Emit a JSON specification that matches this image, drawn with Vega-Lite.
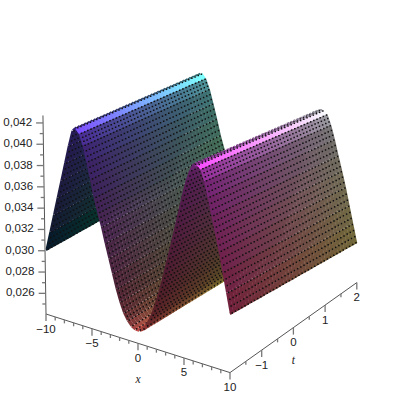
{"$schema":"https://vega.github.io/schema/vega-lite/v6.json","width":400,"height":400,"autosize":"none","padding":0,"background":"white","view":{"stroke":null},
"datasets":{
"surface":[{"x":-10,"z":0.03},{"x":-9.6,"z":0.0317},{"x":-9.2,"z":0.0334},{"x":-8.8,"z":0.0351},{"x":-8.4,"z":0.0368},{"x":-8,"z":0.0385},{"x":-7.6,"z":0.0402},{"x":-7.2,"z":0.0417},{"x":-6.8,"z":0.0421},{"x":-6.4,"z":0.0417},{"x":-6,"z":0.0407},{"x":-5.6,"z":0.0393},{"x":-5.2,"z":0.0378},{"x":-4.8,"z":0.0362},{"x":-4.4,"z":0.0349},{"x":-4,"z":0.0337},{"x":-3.6,"z":0.0323},{"x":-3.2,"z":0.031},{"x":-2.8,"z":0.0297},{"x":-2.4,"z":0.0284},{"x":-2,"z":0.0273},{"x":-1.6,"z":0.0264},{"x":-1.2,"z":0.0258},{"x":-0.8,"z":0.0254},{"x":-0.4,"z":0.0252},{"x":0,"z":0.0252},{"x":0.4,"z":0.0254},{"x":0.8,"z":0.0258},{"x":1.2,"z":0.0265},{"x":1.6,"z":0.0274},{"x":2,"z":0.0285},{"x":2.4,"z":0.0298},{"x":2.8,"z":0.0312},{"x":3.2,"z":0.0327},{"x":3.6,"z":0.0342},{"x":4,"z":0.0358},{"x":4.4,"z":0.0374},{"x":4.8,"z":0.039},{"x":5.2,"z":0.0404},{"x":5.6,"z":0.0415},{"x":6,"z":0.0422},{"x":6.4,"z":0.0423},{"x":6.8,"z":0.042},{"x":7.2,"z":0.041},{"x":7.6,"z":0.0396},{"x":8,"z":0.038},{"x":8.4,"z":0.0365},{"x":8.8,"z":0.0349},{"x":9.2,"z":0.0331},{"x":9.6,"z":0.0313},{"x":10,"z":0.0295}],
"grid":[{"key":1,"t":[-1.95,-1.85,-1.75,-1.65,-1.55,-1.45,-1.35,-1.25,-1.15,-1.05,-0.95,-0.85,-0.75,-0.65,-0.55,-0.45,-0.35,-0.25,-0.15,-0.05,0.05,0.15,0.25,0.35,0.45,0.55,0.65,0.75,0.85,0.95,1.05,1.15,1.25,1.35,1.45,1.55,1.65,1.75,1.85,1.95],"k":[0,1,2,3,4]}],
"axislines":[{"axis":"z","x":-10,"t":-2,"z":0.02406},{"axis":"z","x":-10,"t":-2,"z":0.0427},{"axis":"x","x":-10,"t":-2,"z":0.02406},{"axis":"x","x":10,"t":-2,"z":0.02406},{"axis":"t","x":10,"t":-2,"z":0.02406},{"axis":"t","x":10,"t":2,"z":0.02406}],
"ticks":[{"axis":"z","x":-10,"t":-2,"z":0.025,"major":0},{"axis":"z","x":-10,"t":-2,"z":0.026,"major":1,"label":"0,026"},{"axis":"z","x":-10,"t":-2,"z":0.027,"major":0},{"axis":"z","x":-10,"t":-2,"z":0.028,"major":1,"label":"0,028"},{"axis":"z","x":-10,"t":-2,"z":0.029,"major":0},{"axis":"z","x":-10,"t":-2,"z":0.03,"major":1,"label":"0,030"},{"axis":"z","x":-10,"t":-2,"z":0.031,"major":0},{"axis":"z","x":-10,"t":-2,"z":0.032,"major":1,"label":"0,032"},{"axis":"z","x":-10,"t":-2,"z":0.033,"major":0},{"axis":"z","x":-10,"t":-2,"z":0.034,"major":1,"label":"0,034"},{"axis":"z","x":-10,"t":-2,"z":0.035,"major":0},{"axis":"z","x":-10,"t":-2,"z":0.036,"major":1,"label":"0,036"},{"axis":"z","x":-10,"t":-2,"z":0.037,"major":0},{"axis":"z","x":-10,"t":-2,"z":0.038,"major":1,"label":"0,038"},{"axis":"z","x":-10,"t":-2,"z":0.039,"major":0},{"axis":"z","x":-10,"t":-2,"z":0.04,"major":1,"label":"0,040"},{"axis":"z","x":-10,"t":-2,"z":0.041,"major":0},{"axis":"z","x":-10,"t":-2,"z":0.042,"major":1,"label":"0,042"},
{"axis":"x","x":-10,"t":-2,"z":0.02406,"major":1,"label":"−10"},{"axis":"x","x":-9,"t":-2,"z":0.02406,"major":0},{"axis":"x","x":-8,"t":-2,"z":0.02406,"major":0},{"axis":"x","x":-7,"t":-2,"z":0.02406,"major":0},{"axis":"x","x":-6,"t":-2,"z":0.02406,"major":0},{"axis":"x","x":-5,"t":-2,"z":0.02406,"major":1,"label":"−5"},{"axis":"x","x":-4,"t":-2,"z":0.02406,"major":0},{"axis":"x","x":-3,"t":-2,"z":0.02406,"major":0},{"axis":"x","x":-2,"t":-2,"z":0.02406,"major":0},{"axis":"x","x":-1,"t":-2,"z":0.02406,"major":0},{"axis":"x","x":0,"t":-2,"z":0.02406,"major":1,"label":"0"},{"axis":"x","x":1,"t":-2,"z":0.02406,"major":0},{"axis":"x","x":2,"t":-2,"z":0.02406,"major":0},{"axis":"x","x":3,"t":-2,"z":0.02406,"major":0},{"axis":"x","x":4,"t":-2,"z":0.02406,"major":0},{"axis":"x","x":5,"t":-2,"z":0.02406,"major":1,"label":"5"},{"axis":"x","x":6,"t":-2,"z":0.02406,"major":0},{"axis":"x","x":7,"t":-2,"z":0.02406,"major":0},{"axis":"x","x":8,"t":-2,"z":0.02406,"major":0},{"axis":"x","x":9,"t":-2,"z":0.02406,"major":0},{"axis":"x","x":10,"t":-2,"z":0.02406,"major":1,"label":"10"},
{"axis":"t","x":10,"t":-1.5,"z":0.02406,"major":0},{"axis":"t","x":10,"t":-1,"z":0.02406,"major":1,"label":"−1"},{"axis":"t","x":10,"t":-0.5,"z":0.02406,"major":0},{"axis":"t","x":10,"t":0,"z":0.02406,"major":1,"label":"0"},{"axis":"t","x":10,"t":0.5,"z":0.02406,"major":0},{"axis":"t","x":10,"t":1,"z":0.02406,"major":1,"label":"1"},{"axis":"t","x":10,"t":1.5,"z":0.02406,"major":0},{"axis":"t","x":10,"t":2,"z":0.02406,"major":1,"label":"2"}],
"titles":[{"axis":"x","x":0,"t":-2,"z":0.02406,"label":"x"},{"axis":"t","x":10,"t":0,"z":0.02406,"label":"t"}]
},
"encoding":{"x":{"field":"sx","type":"quantitative","scale":{"domain":[0,400],"range":[0,400]},"axis":null},"y":{"field":"sy","type":"quantitative","scale":{"domain":[0,400],"range":[0,400]},"axis":null}},
"layer":[
{"data":{"name":"surface"},"transform":[
{"window":[{"op":"lead","field":"x","as":"xl"},{"op":"lead","field":"z","as":"zl"},{"op":"lag","field":"x","as":"xb"},{"op":"lag","field":"z","as":"zb"}],"sort":[{"field":"x"}]},
{"calculate":"isValid(datum.xl)?datum.xl:datum.x","as":"xn"},{"calculate":"isValid(datum.zl)?datum.zl:datum.z","as":"zn"},
{"calculate":"isValid(datum.xb)?datum.xb:datum.x","as":"xp"},{"calculate":"isValid(datum.zb)?datum.zb:datum.z","as":"zp"},
{"calculate":"1","as":"key"},
{"lookup":"key","from":{"data":{"name":"grid"},"key":"key","fields":["t","k"]}},
{"flatten":["t"]},{"flatten":["k"]},
{"calculate":"(datum.zn-datum.zp)/(datum.xn-datum.xp)","as":"slope"},
{"calculate":"(0.4+0.7/(1+pow(datum.slope/0.0012,2)))*(datum.slope>0?0.82:1)","as":"L"},
{"calculate":"clamp(round(sqrt(pow(9.2*(datum.xn-datum.x),2)+pow(2.93*(datum.xn-datum.x)-10800*(datum.zn-datum.z),2))/5),1,3)","as":"n"},
{"filter":"(datum.k==0&&datum.xn>datum.x)||(datum.k==4&&abs(datum.x)==10)||(datum.k>=1&&datum.k<=3&&datum.k<=datum.n)"},
{"calculate":"datum.k>=1&&datum.k<=3","as":"isdot"},
{"calculate":"datum.isdot?(datum.k-1)/datum.n:0","as":"fr"},
{"calculate":"datum.x+datum.fr*(datum.xn-datum.x)","as":"px"},{"calculate":"datum.z+datum.fr*(datum.zn-datum.z)","as":"pz"},
{"calculate":"datum.k==4?datum.t-0.05:datum.t","as":"ta"},{"calculate":"datum.k==4?datum.t+0.05:datum.t","as":"tb"},
{"calculate":"datum.k==0?datum.xn:datum.px","as":"xe"},{"calculate":"datum.k==0?datum.zn:datum.pz","as":"ze"},
{"calculate":"46+9.2*(datum.px+10)+31.7*(datum.ta+2)","as":"sx"},
{"calculate":"314+2.93*(datum.px+10)-22.5*(datum.ta+2)-10800*(datum.pz-0.02406)+(datum.ta+2)*(4.5+337*(datum.pz-0.0295))","as":"sy"},
{"calculate":"datum.isdot?datum.sx+1.5:46+9.2*(datum.xe+10)+31.7*(datum.tb+2)","as":"sx2"},
{"calculate":"datum.isdot?datum.sy:314+2.93*(datum.xe+10)-22.5*(datum.tb+2)-10800*(datum.ze-0.02406)+(datum.tb+2)*(4.5+337*(datum.ze-0.0295))","as":"sy2"},
{"calculate":"datum.isdot?1.5:(datum.k==4?2.4:3.8)","as":"w"},
{"calculate":"datum.isdot?'#101010':'rgb('+round(255*datum.L*(0.08+0.92*sqrt((datum.x+10)/20)))+','+round(255*datum.L*(0.28+0.16*(datum.t+2)))+','+round(255*datum.L*(0.27+0.7*(datum.z-0.0252)/0.0171))+')'","as":"col"},
{"calculate":"(2-datum.t)*10000+(datum.isdot?100:0)+datum.x+10","as":"ord"}],
"mark":{"type":"rule"},
"encoding":{"x2":{"field":"sx2"},"y2":{"field":"sy2"},"color":{"field":"col","type":"nominal","scale":null},"size":{"field":"w","type":"quantitative","scale":null},"order":{"field":"ord","type":"quantitative"}}},
{"data":{"name":"axislines"},"transform":[{"calculate":"46+9.2*(datum.x+10)+31.7*(datum.t+2)-163*(datum.z-0.02406)","as":"sx"},{"calculate":"314+2.93*(datum.x+10)-22.5*(datum.t+2)-10650*(datum.z-0.02406)","as":"sy"}],
"mark":{"type":"line","color":"#555555","strokeWidth":1},"encoding":{"detail":{"field":"axis"},"order":{"field":"sy","type":"quantitative"}}},
{"data":{"name":"ticks"},"transform":[{"calculate":"46+9.2*(datum.x+10)+31.7*(datum.t+2)-163*(datum.z-0.02406)","as":"sx"},{"calculate":"314+2.93*(datum.x+10)-22.5*(datum.t+2)-10650*(datum.z-0.02406)","as":"sy"},
{"calculate":"datum.axis=='z'?datum.sx-(datum.major?7:3.5):datum.sx","as":"sx2"},{"calculate":"datum.axis=='z'?datum.sy:datum.sy+(datum.major?7:3.5)","as":"sy2"}],
"mark":{"type":"rule","color":"#777777","strokeWidth":1.3},"encoding":{"x2":{"field":"sx2"},"y2":{"field":"sy2"}}},
{"data":{"name":"ticks"},"transform":[{"filter":"isValid(datum.label)&&datum.axis=='z'"},{"calculate":"35-163*(datum.z-0.02406)","as":"sx"},{"calculate":"314-10650*(datum.z-0.02406)","as":"sy"}],
"mark":{"type":"text","align":"right","baseline":"middle","font":"Liberation Sans","fontSize":11.5,"color":"#222222"},"encoding":{"text":{"field":"label"}}},
{"data":{"name":"ticks"},"transform":[{"filter":"isValid(datum.label)&&datum.axis!='z'"},{"calculate":"46+9.2*(datum.x+10)+31.7*(datum.t+2)","as":"sx"},{"calculate":"314+2.93*(datum.x+10)-22.5*(datum.t+2)+15.5","as":"sy"}],
"mark":{"type":"text","align":"center","baseline":"middle","font":"Liberation Sans","fontSize":11.5,"color":"#222222"},"encoding":{"text":{"field":"label"}}},
{"data":{"name":"titles"},"transform":[{"calculate":"46+9.2*(datum.x+10)+31.7*(datum.t+2)","as":"sx"},{"calculate":"314+2.93*(datum.x+10)-22.5*(datum.t+2)+(datum.axis=='x'?37:33)","as":"sy"}],
"mark":{"type":"text","align":"center","baseline":"middle","font":"Liberation Serif","fontStyle":"italic","fontSize":11.5,"color":"#222222"},"encoding":{"text":{"field":"label"}}}
]}
